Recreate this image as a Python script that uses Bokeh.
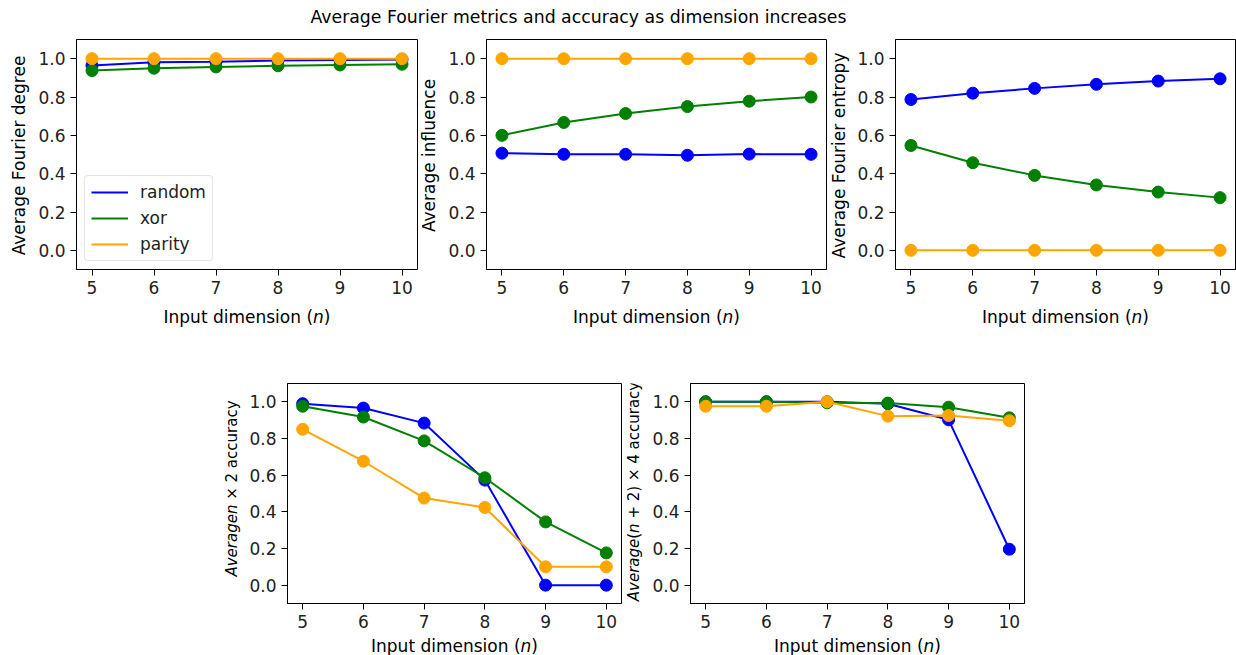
import math

from bokeh.plotting import figure
from bokeh.layouts import row, column
from bokeh.models import (Range1d, FixedTicker, PrintfTickFormatter, Label,
                          Legend, LegendItem, Spacer)
from bokeh.embed import file_html
from bokeh.resources import INLINE

# ---------------------------------------------------------------- data
dims = [5, 6, 7, 8, 9, 10]
series_names = ["random", "xor", "parity"]
series_colors = ["#0000ff", "#008000", "#ffa500"]
y_ticks = [0.0, 0.2, 0.4, 0.6, 0.8, 1.0]

degree_random = [0.964, 0.981, 0.984, 0.990, 0.993, 0.995]
degree_xor = [0.938, 0.950, 0.957, 0.963, 0.967, 0.971]
degree_parity = [1.0, 1.0, 1.0, 1.0, 1.0, 1.0]

influence_random = [0.507, 0.501, 0.501, 0.496, 0.502, 0.501]
influence_xor = [0.600, 0.667, 0.714, 0.750, 0.778, 0.800]
influence_parity = [1.0, 1.0, 1.0, 1.0, 1.0, 1.0]

entropy_random = [0.787, 0.820, 0.845, 0.866, 0.883, 0.895]
entropy_xor = [0.547, 0.457, 0.391, 0.341, 0.304, 0.275]
entropy_parity = [0.0, 0.0, 0.0, 0.0, 0.0, 0.0]

acc2_random = [0.990, 0.966, 0.884, 0.573, 0.0, 0.0]
acc2_xor = [0.976, 0.917, 0.787, 0.586, 0.345, 0.176]
acc2_parity = [0.850, 0.676, 0.475, 0.424, 0.100, 0.100]

acc4_random = [1.0, 1.0, 1.0, 0.990, 0.902, 0.196]
acc4_xor = [1.0, 1.0, 0.995, 0.993, 0.971, 0.913]
acc4_parity = [0.976, 0.976, 1.0, 0.922, 0.925, 0.897]

title_text = "Average Fourier metrics and accuracy as dimension increases"
xlabel_pieces = [("Input dimension (", False), ("n", True), (")", False)]

# ---------------------------------------------------------------- styling
FONT = "DejaVu Sans"
FS = 17  # px

# approximate DejaVu Sans advance widths (em) for laying out mixed-style labels
ADV = {' ': 0.318, '(': 0.390, ')': 0.390, '+': 0.838, '×': 0.838, '.': 0.318,
       'A': 0.684, 'F': 0.575, 'I': 0.295, 'a': 0.613, 'c': 0.550, 'd': 0.635,
       'e': 0.615, 'f': 0.352, 'g': 0.635, 'h': 0.634, 'i': 0.278, 'l': 0.278,
       'm': 0.974, 'n': 0.634, 'o': 0.612, 'p': 0.635, 'r': 0.411, 's': 0.521,
       't': 0.392, 'u': 0.634, 'v': 0.592, 'x': 0.592, 'y': 0.592}
for d in "0123456789":
    ADV[d] = 0.636


def text_width(s, size):
    return sum(ADV.get(ch, 0.6) for ch in s) * size


def strip(fw, fh, bt=0, bb=0):
    """A bare canvas whose frame coordinates are pixels (y up)."""
    s = figure(frame_width=fw, frame_height=fh,
               min_border_left=0, min_border_right=0,
               min_border_top=bt, min_border_bottom=bb,
               x_range=Range1d(0, fw), y_range=Range1d(0, fh),
               x_axis_type=None, y_axis_type=None,
               toolbar_location=None, output_backend="svg")
    s.grid.visible = False
    s.outline_line_color = None
    s.background_fill_color = "white"
    s.border_fill_color = "white"
    return s


def rich_label(s, pieces, cx, cy, size, vertical=False):
    """Lay out a label made of (text, italic) pieces centred on (cx, cy).
    Leading/trailing blanks of a piece only advance the pen, since the
    renderer trims them; each visible run is placed by its own centre."""
    total = sum(text_width(t, size) for t, _ in pieces)
    pos = -total / 2.0
    for t, italic in pieces:
        lead = len(t) - len(t.lstrip(" "))
        trail = len(t) - len(t.rstrip(" "))
        core = t.strip(" ")
        pos += lead * ADV[' '] * size
        w = text_width(core, size)
        mid = pos + w / 2.0
        kw = dict(text=core, text_font=FONT, text_font_size=f"{size}px",
                  text_font_style="italic" if italic else "normal",
                  text_color="#000000", text_align="center",
                  text_baseline="middle")
        if vertical:
            s.add_layout(Label(x=cx, y=cy + mid, angle=math.pi / 2, **kw))
        else:
            s.add_layout(Label(x=cx + mid, y=cy, **kw))
        pos += w + trail * ADV[' '] * size


def make_panel(series, fw, fh, bl, br, bt, bb, legend=False):
    p = figure(frame_width=fw, frame_height=fh,
               min_border_left=bl, min_border_right=br,
               min_border_top=bt, min_border_bottom=bb,
               x_range=Range1d(4.75, 10.25), y_range=Range1d(-0.1, 1.1),
               toolbar_location=None, output_backend="svg")
    p.grid.visible = False
    p.background_fill_color = "white"
    p.border_fill_color = "white"
    p.outline_line_color = "black"
    p.outline_line_width = 1
    p.outline_line_alpha = 1.0
    for ax in p.axis:
        ax.axis_line_color = "black"
        ax.major_tick_line_color = "black"
        ax.major_tick_out = 6
        ax.major_tick_in = 0
        ax.minor_tick_line_color = None
        ax.major_label_text_font = FONT
        ax.major_label_text_font_size = f"{FS}px"
        ax.major_label_text_color = "#222222"
        ax.major_label_standoff = 5
    p.xaxis.ticker = FixedTicker(ticks=dims)
    p.yaxis.ticker = FixedTicker(ticks=y_ticks)
    p.yaxis.formatter = PrintfTickFormatter(format="%.1f")

    items = []
    for name, color, vals in zip(series_names, series_colors, series):
        ln = p.line(dims, vals, line_color=color, line_width=2)
        p.scatter(dims, vals, size=12, fill_color=color, line_color=color)
        items.append(LegendItem(label=name, renderers=[ln]))

    if legend:
        lg = Legend(items=items, location="bottom_left", margin=8,
                    padding=6, spacing=6, glyph_width=37, glyph_height=20,
                    label_height=20, label_standoff=12,
                    label_text_font=FONT, label_text_font_size=f"{FS}px",
                    label_text_color="#222222",
                    border_line_color="#cccccc", border_line_width=1,
                    border_radius=4,
                    background_fill_color="white", background_fill_alpha=0.8)
        p.add_layout(lg)
    return p


def ylabel_strip(w, fh, bt, bb, cx, cy, pieces, size=FS):
    s = strip(w, fh, bt, bb)
    rich_label(s, pieces, cx, cy, size, vertical=True)
    return s


# ---------------------------------------------------------------- title strip
tfig = strip(1236, 30)
tfig.add_layout(Label(x=578, y=14, text=title_text, text_font=FONT,
                      text_font_size="17.3px", text_color="#000000",
                      text_align="center", text_baseline="middle"))

# ---------------------------------------------------------------- top row
p1 = make_panel([degree_random, degree_xor, degree_parity],
                341, 230, 46, 2, 9, 35, legend=True)
p2 = make_panel([influence_random, influence_xor, influence_parity],
                340, 230, 46, 3, 9, 35)
p3 = make_panel([entropy_random, entropy_xor, entropy_parity],
                340, 230, 45, 1, 9, 35)

yl1 = ylabel_strip(30, 230, 9, 35, 18, 114, [("Average Fourier degree", False)])
yl2 = ylabel_strip(21, 230, 9, 35, 9, 114, [("Average influence", False)])
yl3 = ylabel_strip(21, 230, 9, 35, 9, 114, [("Average Fourier entropy", False)])

xl_top = strip(1236, 36)
for cx in (246.5, 656, 1065):
    rich_label(xl_top, xlabel_pieces, cx, 24, FS)

top_block = column(row(yl1, p1, yl2, p2, yl3, p3), xl_top)

# ---------------------------------------------------------------- bottom row
p4 = make_panel([acc2_random, acc2_xor, acc2_parity],
                334, 220, 42, 2, 43, 30)
p5 = make_panel([acc4_random, acc4_xor, acc4_parity],
                334, 220, 45, 10, 43, 30)

yl4 = ylabel_strip(40, 220, 43, 30, 26, 115,
                   [("Averagen", True), (" × 2 accuracy", False)], 15)
yl5 = ylabel_strip(22, 220, 43, 30, 10, 112,
                   [("Average", True), ("(", False), ("n", True),
                    (" + 2) × 4 accuracy", False)], 15)

xl_bot = strip(1236, 22)
for cx in (454, 857):
    rich_label(xl_bot, xlabel_pieces, cx, 10, FS)

bottom_block = column(row(Spacer(width=205, height=293), yl4, p4, yl5, p5),
                      xl_bot)

layout = column(tfig, top_block, bottom_block)

open("out.html", "w").write(file_html(layout, INLINE))
